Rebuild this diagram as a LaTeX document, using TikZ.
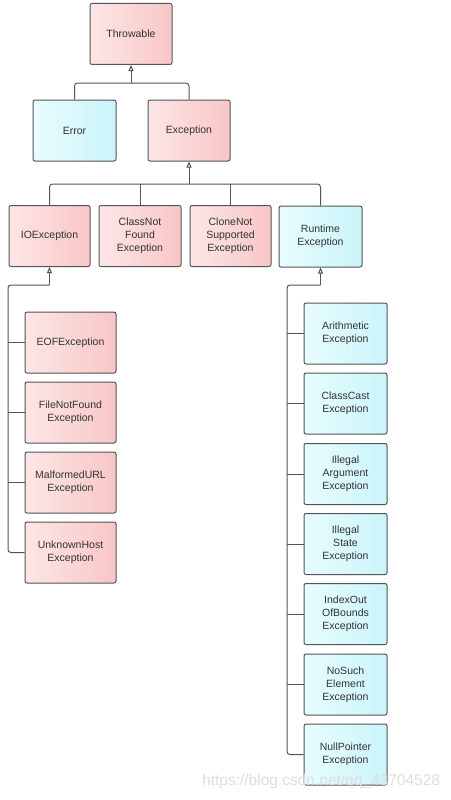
\documentclass[tikz,border=0pt]{standalone}
\usepackage{fontspec}
\setmainfont{Liberation Sans}
\usetikzlibrary{arrows.meta}
\definecolor{pinkA}{HTML}{FDE6E6}
\definecolor{pinkB}{HTML}{F8C6C6}
\definecolor{cyanA}{HTML}{E8FDFE}
\definecolor{cyanB}{HTML}{CAF4FA}
\definecolor{edge}{HTML}{555555}
\definecolor{txt}{HTML}{333333}
\tikzset{
  box/.style={draw=edge, line width=1pt, rounded corners=2pt, minimum height=61pt,
    align=center, text=txt, font=\fontsize{10.5}{13}\selectfont, inner sep=1pt},
  pinkbox/.style={box, shading=axis, shading angle=135, left color=pinkA, right color=pinkB},
  cyanbox/.style={box, shading=axis, shading angle=135, left color=cyanA, right color=cyanB},
  conn/.style={draw=edge, line width=1pt, rounded corners=3pt},
  inh/.style={draw=edge, line width=1pt, -{Triangle[open, length=6pt, width=5pt]}},
}
\begin{document}
\begin{tikzpicture}[x=1pt,y=-1pt]
\useasboundingbox (0,0) rectangle (450,800);
\fill[white] (0,0) rectangle (450,800);
% top levels
\node[pinkbox, minimum width=82pt] (thr) at (131,34) {Throwable};
\node[cyanbox, minimum width=83pt] (err) at (74.5,130.5) {Error};
\node[pinkbox, minimum width=82pt] (exc) at (189,130.5) {Exception};
% row 3
\node[pinkbox, minimum width=81pt] (io) at (49.5,236) {IOException};
\node[pinkbox, minimum width=82pt] (cnf) at (140,236) {ClassNot\\Found\\Exception};
\node[pinkbox, minimum width=81pt] (cns) at (230.5,236) {CloneNot\\Supported\\Exception};
\node[cyanbox, minimum width=83pt] (rt) at (320.5,236.5) {Runtime\\Exception};
% IO children
\node[pinkbox, minimum width=91pt] (eof) at (70.5,342.5) {EOFException};
\node[pinkbox, minimum width=91pt] (fnf) at (70.5,412.5) {FileNotFound\\Exception};
\node[pinkbox, minimum width=91pt] (mal) at (70.5,482.5) {MalformedURL\\Exception};
\node[pinkbox, minimum width=91pt] (unk) at (70.5,552.5) {UnknownHost\\Exception};
% Runtime children
\node[cyanbox, minimum width=83pt] (ari) at (345.5,333.5) {Arithmetic\\Exception};
\node[cyanbox, minimum width=83pt] (cce) at (345.5,403.5) {ClassCast\\Exception};
\node[cyanbox, minimum width=83pt] (iae) at (345.5,474) {Illegal\\Argument\\Exception};
\node[cyanbox, minimum width=83pt] (ise) at (345.5,544) {Illegal\\State\\Exception};
\node[cyanbox, minimum width=83pt] (ioob) at (345.5,614) {IndexOut\\OfBounds\\Exception};
\node[cyanbox, minimum width=83pt] (nse) at (345.5,684.5) {NoSuch\\Element\\Exception};
\node[cyanbox, minimum width=83pt] (npe) at (345.5,754.5) {NullPointer\\Exception};
% junction coordinates
\coordinate (b1) at (131,83);
\coordinate (b2) at (189,184);
\coordinate (b3) at (49.5,285);
\coordinate (v1) at (8,552.5);
\coordinate (b4) at (320.5,285);
\coordinate (v2) at (287,754.5);
% Throwable tree
\draw[inh] (b1) -- (thr.south);
\draw[conn] (err.north) |- (b1) -| (exc.north);
% Exception tree
\draw[inh] (b2) -- (exc.south);
\draw[conn] (io.north) |- (b2) -| (rt.north);
\draw[conn] (cnf.north) -- (cnf.north |- b2);
\draw[conn] (cns.north) -- (cns.north |- b2);
% IOException tree
\draw[inh] (b3) -- (io.south);
\draw[conn] (b3) -| (v1) -- (unk.west);
\draw[conn] (eof.west) -- (eof.west -| v1);
\draw[conn] (fnf.west) -- (fnf.west -| v1);
\draw[conn] (mal.west) -- (mal.west -| v1);
% RuntimeException tree
\draw[inh] (b4) -- (rt.south);
\draw[conn] (b4) -| (v2) -- (npe.west);
\foreach \n in {ari,cce,iae,ise,ioob,nse}
  \draw[conn] (\n.west) -- (\n.west -| v2);
% watermark
\node[text=black!13, font=\fontsize{15.5}{17}\selectfont, anchor=west, inner sep=0pt] (wm) at (202,781) {https://blog.csdn.net/qq\_43704528};
\end{tikzpicture}
\end{document}
